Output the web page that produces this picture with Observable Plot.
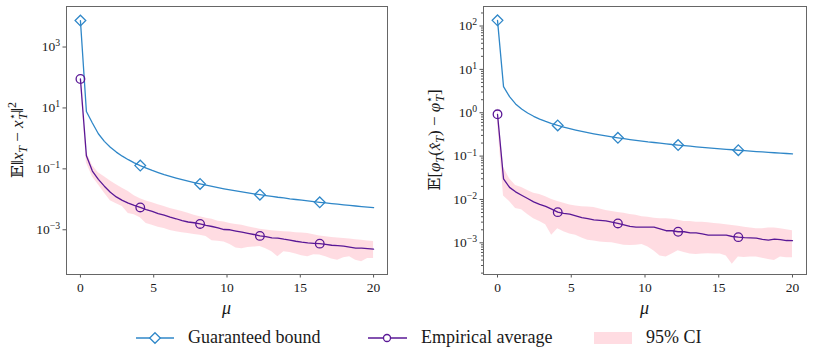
<!DOCTYPE html>
<html><head><meta charset="utf-8">
<script src="https://cdn.jsdelivr.net/npm/d3@7"></script>
<script src="https://cdn.jsdelivr.net/npm/@observablehq/plot@0.6"></script>
<style>
body{margin:0;background:#fff;}
#fig{position:relative;width:814px;height:363px;overflow:hidden;background:#fff;}
#left{position:absolute;left:0;top:0;}
#right{position:absolute;left:400px;top:0;}
#legend{position:absolute;left:0;top:322px;}
svg text{font-family:"Liberation Serif","DejaVu Serif",serif;}
</style></head><body>
<div id="fig"><div id="left"></div><div id="right"></div><div id="legend"></div></div>
<script>
// ---- data ----
const mu = [0, 0.408, 0.816, 1.224, 1.633, 2.041, 2.449, 2.857, 3.265, 3.673, 4.082, 4.490, 4.898, 5.306, 5.714, 6.122, 6.531, 6.939, 7.347, 7.755, 8.163, 8.571, 8.980, 9.388, 9.796, 10.204, 10.612, 11.020, 11.429, 11.837, 12.245, 12.653, 13.061, 13.469, 13.878, 14.286, 14.694, 15.102, 15.510, 15.918, 16.327, 16.735, 17.143, 17.551, 17.959, 18.367, 18.776, 19.184, 19.592, 20];
const markerIdx = [0, 10, 20, 30, 40];

const leftBound = [7400, 7.6, 3.2, 1.42, 0.80, 0.51, 0.355, 0.261, 0.200, 0.158, 0.128, 0.106, 0.0888, 0.0757, 0.0652, 0.0568, 0.0499, 0.0442, 0.0395, 0.0354, 0.0320, 0.0290, 0.0264, 0.0242, 0.0222, 0.0205, 0.0189, 0.0175, 0.0163, 0.0152, 0.0142, 0.0133, 0.0125, 0.0117, 0.0111, 0.0104, 0.00987, 0.00934, 0.00885, 0.00841, 0.00799, 0.00760, 0.00725, 0.00692, 0.00660, 0.00631, 0.00604, 0.00579, 0.00555, 0.00533];
const leftEmp = [89, 0.27, 0.085, 0.045, 0.027, 0.017, 0.012, 0.0092, 0.0075, 0.0063, 0.0054, 0.0046, 0.0040, 0.0034, 0.0030, 0.0026, 0.0023, 0.0020, 0.0018, 0.0017, 0.00155, 0.00140, 0.00128, 0.00116, 0.00102, 0.00100, 0.00091, 0.00083, 0.00076, 0.00070, 0.00063, 0.00060, 0.00054, 0.00053, 0.00049, 0.00046, 0.00042, 0.00039, 0.00037, 0.00036, 0.00035, 0.00033, 0.00031, 0.00030, 0.00029, 0.00027, 0.00025, 0.00025, 0.00024, 0.00023];
const leftLo = [80, 0.16, 0.055, 0.030, 0.016, 0.0090, 0.0072, 0.0058, 0.0034, 0.0031, 0.0025, 0.0016, 0.0014, 0.0012, 0.0011, 0.00095, 0.00086, 0.00080, 0.00076, 0.00070, 0.00066, 0.00060, 0.00044, 0.00042, 0.00040, 0.00033, 0.00025, 0.00024, 0.00026, 0.00027, 0.00028, 0.00024, 0.00019, 0.00013, 0.00019, 0.00018, 0.00016, 0.00014, 0.00013, 0.00015, 0.000148, 0.00013, 0.00011, 0.00010, 0.00012, 0.00013, 0.00010, 0.000089, 0.000115, 0.000115];
const leftHi = [98, 0.36, 0.13, 0.075, 0.055, 0.040, 0.030, 0.023, 0.018, 0.013, 0.0105, 0.0088, 0.0077, 0.0066, 0.0058, 0.0050, 0.0045, 0.0040, 0.0035, 0.0030, 0.0027, 0.0024, 0.0022, 0.0019, 0.0018, 0.0016, 0.0015, 0.0014, 0.00126, 0.00115, 0.00105, 0.00098, 0.00093, 0.00090, 0.00086, 0.00084, 0.00080, 0.00078, 0.00075, 0.00068, 0.00062, 0.00059, 0.00056, 0.00054, 0.00052, 0.00050, 0.00047, 0.00045, 0.00043, 0.00041];

const rightBound = [135, 4.0, 2.35, 1.60, 1.22, 0.985, 0.828, 0.716, 0.630, 0.564, 0.510, 0.466, 0.429, 0.397, 0.370, 0.347, 0.326, 0.308, 0.292, 0.277, 0.264, 0.252, 0.241, 0.231, 0.222, 0.213, 0.206, 0.199, 0.192, 0.185, 0.180, 0.174, 0.169, 0.164, 0.159, 0.155, 0.151, 0.147, 0.1435, 0.140, 0.1366, 0.1334, 0.1305, 0.1275, 0.1248, 0.1222, 0.1196, 0.1172, 0.1149, 0.1127];
const rightEmp = [0.92, 0.030, 0.019, 0.0150, 0.0125, 0.0105, 0.0088, 0.0077, 0.0069, 0.0060, 0.0051, 0.0048, 0.0046, 0.0042, 0.0038, 0.0036, 0.0034, 0.0033, 0.0032, 0.0030, 0.0028, 0.0026, 0.0024, 0.0023, 0.0023, 0.0023, 0.0023, 0.0021, 0.0019, 0.0019, 0.0018, 0.0018, 0.0017, 0.0017, 0.0016, 0.0015, 0.0015, 0.0015, 0.0015, 0.0014, 0.00135, 0.00132, 0.00130, 0.00128, 0.00120, 0.00116, 0.00122, 0.00118, 0.00113, 0.00112];
const rightLo = [0.60, 0.012, 0.0090, 0.0062, 0.0058, 0.0045, 0.0036, 0.0031, 0.0026, 0.0015, 0.0021, 0.0018, 0.0016, 0.0015, 0.0013, 0.00115, 0.00110, 0.00105, 0.00102, 0.00100, 0.00094, 0.00088, 0.00087, 0.00088, 0.00092, 0.00080, 0.00065, 0.00050, 0.00047, 0.00055, 0.00066, 0.00060, 0.00055, 0.00054, 0.00055, 0.00056, 0.00055, 0.00055, 0.00050, 0.00032, 0.00047, 0.00046, 0.00047, 0.00047, 0.00044, 0.00041, 0.00039, 0.00047, 0.00045, 0.00045];
const rightHi = [1.45, 0.055, 0.030, 0.021, 0.019, 0.016, 0.014, 0.013, 0.0115, 0.0100, 0.0090, 0.0082, 0.0075, 0.0071, 0.0068, 0.0067, 0.0065, 0.0060, 0.0056, 0.0053, 0.0050, 0.0048, 0.0045, 0.0043, 0.0040, 0.0039, 0.0037, 0.0036, 0.0036, 0.0035, 0.0033, 0.0031, 0.0031, 0.0030, 0.0030, 0.0029, 0.0028, 0.0027, 0.0026, 0.0025, 0.0024, 0.0023, 0.0022, 0.0021, 0.0021, 0.0022, 0.0022, 0.0021, 0.0020, 0.0019];

const xTicks = [0, 5, 10, 15, 20];
const leftYTicks = [1e3, 1e1, 1e-1, 1e-3];
const rightYTicks = [1e2, 1e1, 1e0, 1e-1, 1e-2, 1e-3];
const legendLabels = ["Guaranteed bound", "Empirical average", "95% CI"];

// ---- style ----
const BLUE = "#2f87c8", PURPLE = "#5a1896", PINK = "#ffc0cb";
const FONT = "Liberation Serif, DejaVu Serif, serif";
const TEXT = "#1a1a1a";

function expFmt(d) {
  const e = Math.round(Math.log10(d));
  return "10^" + String(e).replace("-", "\u2212");
}

function panel(opts) {
  const rows = mu.map((m, i) => ({mu: m, bound: opts.bound[i], emp: opts.emp[i], lo: opts.lo[i], hi: opts.hi[i], i}));
  const mk = rows.filter(d => markerIdx.includes(d.i));
  const marks = [
    Plot.areaY(rows, {x: "mu", y1: "lo", y2: "hi", fill: PINK, fillOpacity: 0.55, curve: "linear"}),
    Plot.line(rows, {x: "mu", y: "bound", stroke: BLUE, strokeWidth: 1.3}),
    Plot.line(rows, {x: "mu", y: "emp", stroke: PURPLE, strokeWidth: 1.3}),
    Plot.dot(mk, {x: "mu", y: "bound", symbol: "diamond2", r: 4.8, stroke: BLUE, strokeWidth: 1.3, fill: "none"}),
    Plot.dot(mk, {x: "mu", y: "emp", symbol: "circle", r: 4.3, stroke: PURPLE, strokeWidth: 1.3, fill: "none"}),
    Plot.axisX({ticks: xTicks, tickSize: 3.5, tickPadding: 4, label: null, fontSize: 13.5, fontFamily: FONT, stroke: "#555"}),
    Plot.axisY({ticks: opts.yTicks, tickSize: 3.5, tickPadding: 3, tickFormat: expFmt, label: null, fontSize: 13.5, fontFamily: FONT, stroke: "#555"})
  ];
  if (opts.minor) {
    marks.push(Plot.axisY({ticks: opts.minor, tickSize: 2, tickFormat: () => "", label: null, stroke: "#555"}));
  }
  marks.push(Plot.frame({stroke: "#666", strokeWidth: 1}));
  const svg = Plot.plot({
    width: opts.width, height: 320,
    marginTop: 6, marginBottom: 46, marginLeft: opts.ml, marginRight: opts.mr,
    style: {fontFamily: FONT, color: TEXT, background: "white", overflow: "visible"},
    x: {domain: [-0.95, 20.95]},
    y: {type: "log", domain: opts.yDomain},
    marks
  });
  // superscript exponents in tick labels
  d3.select(svg).selectAll("text").each(function () {
    const s = this.textContent;
    if (!s.startsWith("10^")) return;
    const [b, e] = s.split("^");
    const t = d3.select(this);
    t.text(null);
    t.append("tspan").text(b);
    t.append("tspan").attr("dy", "-0.5em").attr("font-size", "0.72em").text(e);
  });
  const g = d3.select(svg);
  // x label
  g.append("text").attr("x", opts.ml + (opts.width - opts.ml - opts.mr) / 2).attr("y", 314)
    .attr("text-anchor", "middle").attr("font-family", FONT).attr("font-style", "italic")
    .attr("font-size", 18).attr("fill", TEXT).text("\u03bc");
  // y label
  const yl = g.append("text").attr("transform", `translate(${opts.ylx},140) rotate(-90)`)
    .attr("text-anchor", "middle").attr("font-family", FONT).attr("font-size", 17).attr("fill", TEXT);
  opts.ylabel(yl);
  return svg;
}

function seg(t, txt, o = {}) {
  const s = t.append("tspan").text(txt);
  if (o.it) s.attr("font-style", "italic");
  if (o.dy) s.attr("dy", o.dy);
  if (o.dx) s.attr("dx", o.dx);
  if (o.fs) s.attr("font-size", o.fs);
  return s;
}

const minorRight = [];
for (let k = -4; k <= 2; k++) for (let m = 2; m <= 9; m++) {
  const v = m * Math.pow(10, k);
  if (v > 1.86e-4 && v < 282) minorRight.push(v);
}

document.getElementById("left").appendChild(panel({
  bound: leftBound, emp: leftEmp, lo: leftLo, hi: leftHi,
  width: 400, ml: 66, mr: 13, yDomain: [3.4e-5, 21400], yTicks: leftYTicks, ylx: 23,
  ylabel: t => {
    seg(t, "\ud835\udd3c\u2016");
    seg(t, "x", {it: 1});
    seg(t, "T", {it: 1, dy: 4, fs: 12});
    seg(t, " \u2212 ", {dy: -4});
    seg(t, "x", {it: 1});
    seg(t, "\u22c6", {dy: -7, fs: 11});
    seg(t, "T", {it: 1, dy: 11, dx: -6, fs: 12});
    seg(t, "\u2016", {dy: -4});
    seg(t, "2", {dy: -7, fs: 12});
  }
}));

document.getElementById("right").appendChild(panel({
  bound: rightBound, emp: rightEmp, lo: rightLo, hi: rightHi,
  width: 414, ml: 83, mr: 8, yDomain: [1.86e-4, 282], yTicks: rightYTicks, minor: minorRight, ylx: 40,
  ylabel: t => {
    seg(t, "\ud835\udd3c[");
    seg(t, "\u03c6", {it: 1});
    seg(t, "T", {it: 1, dy: 4, fs: 12});
    seg(t, "(", {dy: -4});
    seg(t, "x\u0302", {it: 1});
    seg(t, "T", {it: 1, dy: 4, fs: 12});
    seg(t, ") \u2212 ", {dy: -4});
    seg(t, "\u03c6", {it: 1});
    seg(t, "\u22c6", {dy: -7, fs: 11});
    seg(t, "T", {it: 1, dy: 11, dx: -6, fs: 12});
    seg(t, "]", {dy: -4});
  }
}));

// ---- legend ----
const lg = d3.select("#legend").append("svg").attr("width", 814).attr("height", 40);
const cy = 16;
lg.append("line").attr("x1", 136).attr("x2", 174).attr("y1", cy).attr("y2", cy).attr("stroke", BLUE).attr("stroke-width", 1.3);
lg.append("path").attr("d", d3.symbol(d3.symbolDiamond2, Math.PI * 4.8 * 4.8)()).attr("transform", `translate(155,${cy})`)
  .attr("fill", "white").attr("stroke", BLUE).attr("stroke-width", 1.3);
lg.append("line").attr("x1", 368).attr("x2", 407).attr("y1", cy).attr("y2", cy).attr("stroke", PURPLE).attr("stroke-width", 1.3);
lg.append("circle").attr("cx", 387).attr("cy", cy).attr("r", 3.5).attr("fill", "white").attr("stroke", PURPLE).attr("stroke-width", 1.3);
lg.append("rect").attr("x", 594).attr("y", cy - 6).attr("width", 38).attr("height", 12).attr("fill", PINK).attr("fill-opacity", 0.55);
[[188, legendLabels[0]], [421, legendLabels[1]], [646, legendLabels[2]]].forEach(([x, s]) => {
  lg.append("text").attr("x", x).attr("y", cy + 5).attr("font-family", FONT).attr("font-size", 18).attr("fill", TEXT).text(s);
});
</script>
</body></html>
